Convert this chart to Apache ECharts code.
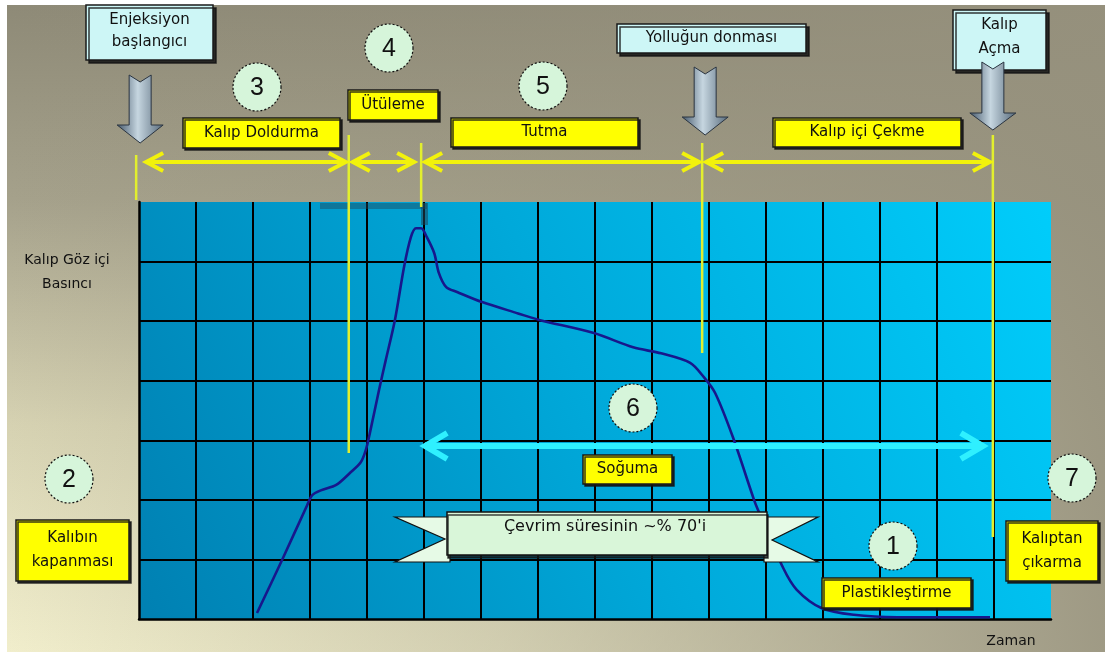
<!DOCTYPE html>
<html>
<head>
<meta charset="utf-8">
<script src="https://cdn.jsdelivr.net/npm/echarts@6/dist/echarts.min.js"></script>
<style>
  html, body { margin: 0; padding: 0; background: #fff; }
  #c1 { width: 1105px; height: 652px; }
</style>
</head>
<body>
<div id="c1"></div>
<script>
// kalıp göz içi basıncı (y) - zaman (x), grid birimleri
const curveTime = [2.07, 2.51, 2.95, 3.04, 3.19, 3.46, 3.70, 3.89, 3.98, 4.05, 4.21, 4.33, 4.49, 4.65, 4.77, 4.86, 4.95, 5.05, 5.18, 5.26, 5.39, 5.58, 6.02, 6.65, 7.02, 7.98, 8.67, 9.16, 9.67, 9.91, 10.11, 10.42, 10.79, 10.86, 11.30, 11.54, 11.98, 12.54, 13.30, 14.93]
const curvePressure = [0.10, 0.99, 1.91, 2.08, 2.16, 2.25, 2.45, 2.63, 2.84, 3.12, 3.84, 4.35, 5.02, 5.91, 6.41, 6.56, 6.56, 6.41, 6.14, 5.81, 5.57, 5.49, 5.32, 5.13, 5.02, 4.80, 4.56, 4.46, 4.30, 4.06, 3.79, 3.05, 2.00, 1.83, 0.86, 0.49, 0.18, 0.07, 0.03, 0.03]

// faz sınırları (zaman ekseni)
const phaseBounds = [-0.05, 3.68, 4.95, 9.88, 14.98]
const phaseNames = ['Kalıp Doldurma', 'Ütüleme', 'Tutma', 'Kalıp içi Çekme']
const stepNumbers = ['1', '2', '3', '4', '5', '6', '7']

const FONT = '"DejaVu Sans", Verdana, sans-serif'

const chart = echarts.init(document.getElementById('c1'))

const axisCommon = {
  type: 'value',
  interval: 1,
  min: 0,
  axisLabel: { show: false },
  axisTick: { show: false },
  axisLine: { show: true, lineStyle: { color: '#000', width: 2.5 } },
  splitLine: {
    show: true,
    showMinLine: false,
    showMaxLine: false,
    lineStyle: { color: '#000', width: 2 }
  }
}

const option = {
  animation: false,
  grid: {
    left: 139,
    right: 54,
    top: 202,
    bottom: 33,
    show: true,
    borderWidth: 0,
    backgroundColor: new echarts.graphic.LinearGradient(0, 1, 1, 0, [
      { offset: 0, color: '#0080b2' },
      { offset: 0.5, color: '#00a9da' },
      { offset: 1, color: '#00cdfb' }
    ])
  },
  xAxis: Object.assign({}, axisCommon, { max: 16 }),
  yAxis: Object.assign({}, axisCommon, { max: 7 }),
  series: [
    {
      name: 'Kalıp Göz içi Basıncı',
      type: 'line',
      data: curveTime.map((t, i) => [t, curvePressure[i]]),
      smooth: 0.3,
      showSymbol: false,
      lineStyle: { color: '#17178c', width: 2.6 },
      z: 5
    }
  ]
}
chart.setOption(option)

const px = v => chart.convertToPixel({ xAxisIndex: 0 }, v)

// --- yardımcılar ---
function textEl(text, x, y, size, opts) {
  opts = opts || {}
  return {
    type: 'text', z: opts.z || 110,
    style: {
      text, x, y,
      align: opts.align || 'center',
      verticalAlign: 'middle',
      font: size + 'px ' + (opts.family || FONT),
      fill: opts.color || '#111'
    }
  }
}
function box(x, y, w, h, fill, lines, opts) {
  opts = opts || {}
  const lh = opts.lineHeight || 24
  const size = opts.size || 15
  const out = [{
    type: 'rect', z: opts.z || 105,
    shape: { x, y, width: w, height: h },
    style: {
      fill, stroke: '#1a1a1a', lineWidth: 1.5,
      shadowColor: 'rgba(20,20,20,0.85)', shadowOffsetX: opts.shadow || 2, shadowOffsetY: opts.shadow || 2, shadowBlur: 0
    }
  }]
  const cy = y + h / 2 - (lines.length - 1) * lh / 2 + (opts.dy || 0)
  lines.forEach((t, i) => out.push(textEl(t, x + w / 2, cy + i * lh, size, { z: (opts.z || 105) + 1 })))
  return out
}
function stepCircle(cx, cy, num) {
  return [
    {
      type: 'circle', z: 106,
      shape: { cx, cy, r: 24 },
      style: { fill: '#d6f5da', stroke: '#111', lineWidth: 1.2, lineDash: [2, 2] }
    },
    textEl(num, cx, cy + 1, 25, { z: 107, family: '"Liberation Sans", Arial, sans-serif' })
  ]
}
const arrowFill = new echarts.graphic.LinearGradient(0, 0, 1, 0, [
  { offset: 0, color: '#44576a' },
  { offset: 0.45, color: '#c6d6e0' },
  { offset: 1, color: '#56697a' }
])
function downArrow(tipX, tipY, topY, headY) {
  return {
    type: 'polygon', z: 108,
    shape: {
      points: [
        [tipX - 11, topY], [tipX, topY + 7], [tipX + 11, topY],
        [tipX + 11, headY], [tipX + 23, headY], [tipX, tipY],
        [tipX - 23, headY], [tipX - 11, headY]
      ]
    },
    style: { fill: arrowFill, stroke: '#2a3440', lineWidth: 1 }
  }
}
function doubleArrow(x1, x2, y, color, width, head) {
  const hl = head[0], hw = head[1]
  const st = { stroke: color, lineWidth: width, fill: null, lineJoin: 'miter' }
  return [
    { type: 'polyline', z: 104, shape: { points: [[x1 + 2, y], [x2 - 2, y]] }, style: st },
    { type: 'polyline', z: 104, shape: { points: [[x1 + hl, y - hw], [x1, y], [x1 + hl, y + hw]] }, style: st },
    { type: 'polyline', z: 104, shape: { points: [[x2 - hl, y - hw], [x2, y], [x2 - hl, y + hw]] }, style: st }
  ]
}

const g = []

// arka plan: dikey gri -> krem, sağa doğru gri
g.push({
  type: 'rect', z: -100,
  shape: { x: 7, y: 5, width: 1098, height: 647 },
  style: {
    fill: new echarts.graphic.LinearGradient(0, 0, 0, 1, [
      { offset: 0, color: '#8e8a77' },
      { offset: 0.3, color: '#a5a18b' },
      { offset: 0.65, color: '#d6d2b2' },
      { offset: 1, color: '#f1eecc' }
    ])
  }
})
g.push({
  type: 'rect', z: -99,
  shape: { x: 7, y: 5, width: 1098, height: 647 },
  style: {
    fill: new echarts.graphic.LinearGradient(0, 0, 1, 0, [
      { offset: 0, color: 'rgba(150,145,125,0)' },
      { offset: 0.45, color: 'rgba(150,145,125,0.35)' },
      { offset: 1, color: 'rgba(150,145,125,0.9)' }
    ])
  }
})

// grafik üstünde koyu şerit
g.push({ type: 'rect', z: 3, shape: { x: 320, y: 203, width: 107, height: 6 }, style: { fill: 'rgba(30,70,90,0.45)' } })
g.push({ type: 'rect', z: 3, shape: { x: 421, y: 203, width: 7, height: 22 }, style: { fill: 'rgba(30,70,90,0.55)' } })

// faz sınırı dikey çizgileri
const vTops = [155, 135, 143, 143, 135]
const vBottoms = [200, 453, 207, 353, 537]
phaseBounds.forEach((b, i) => {
  const x = px(b)
  g.push({
    type: 'line', z: 103,
    shape: { x1: x, y1: vTops[i], x2: x, y2: vBottoms[i] },
    style: { stroke: '#e2ef2e', lineWidth: 2.5 }
  })
})

// faz okları
const arrowY = 162
phaseNames.forEach((n, i) => {
  const a = px(phaseBounds[i]) + (i === 0 ? 10 : 4)
  const b = px(phaseBounds[i + 1]) - (i === 1 ? 7 : 3)
  g.push(...doubleArrow(a, b, arrowY, '#f2f20c', 4, [17, 9]))
})

// soğuma oku
g.push(...doubleArrow(px(phaseBounds[2]) + 4, px(phaseBounds[4]) - 10, 446, '#2ff0ff', 6, [22, 13]))

// faz etiketleri
const phaseBoxes = [
  [183, 118, 157, 30],
  [348, 90, 90, 30],
  [451, 118, 187, 29],
  [773, 118, 188, 29]
]
phaseNames.forEach((n, i) => {
  const r = phaseBoxes[i]
  g.push(...box(r[0], r[1], r[2], r[3], '#ffff00', [n]))
})

// diğer etiketler
g.push(...box(86, 5, 127, 55, '#cdf6f6', ['Enjeksiyon', 'başlangıcı'], { lineHeight: 22, shadow: 3, dy: -1 }))
g.push(...box(617, 24, 189, 29, '#cdf6f6', ['Yolluğun donması'], { shadow: 3 }))
g.push(...box(953, 10, 93, 60, '#cdf6f6', ['Kalıp', 'Açma'], { shadow: 3, dy: -3 }))
g.push(...box(583, 455, 89, 29, '#ffff00', ['Soğuma']))
g.push(...box(16, 520, 113, 61, '#ffff00', ['Kalıbın', 'kapanması']))
g.push(...box(1006, 521, 92, 60, '#ffff00', ['Kalıptan', 'çıkarma']))
g.push(...box(822, 578, 149, 30, '#ffff00', ['Plastikleştirme']))

// oklar
g.push(downArrow(px(phaseBounds[0]) + 4, 143, 75, 125))
g.push(downArrow(px(phaseBounds[3]) + 3, 135, 67, 117))
g.push(downArrow(px(phaseBounds[4]), 130, 62, 113))

// numaralar
const circlePos = [[893, 546], [69, 479], [257, 87], [389, 48], [543, 86], [633, 408], [1072, 478]]
stepNumbers.forEach((n, i) => g.push(...stepCircle(circlePos[i][0], circlePos[i][1], n)))

// şerit (banner)
const bannerFill = '#d9f6d9'
g.push({
  type: 'polygon', z: 105,
  shape: { points: [[450, 517], [395, 517], [445, 539], [395, 562], [450, 562]] },
  style: { fill: '#e6fae6', stroke: '#111', lineWidth: 1.2 }
})
g.push({
  type: 'polygon', z: 105,
  shape: { points: [[764, 517], [818, 517], [772, 540], [818, 562], [764, 562]] },
  style: { fill: '#e6fae6', stroke: '#111', lineWidth: 1.2 }
})
g.push({
  type: 'rect', z: 106,
  shape: { x: 447, y: 512, width: 320, height: 43 },
  style: { fill: bannerFill, stroke: '#111', lineWidth: 1.5, shadowColor: 'rgba(20,20,20,0.8)', shadowOffsetX: 1, shadowOffsetY: 3, shadowBlur: 0 }
})
g.push(textEl("Çevrim süresinin ~% 70'i", 605, 527, 16, { z: 107 }))

// eksen yazıları
g.push(textEl('Kalıp Göz içi', 67, 260, 14))
g.push(textEl('Basıncı', 67, 284, 14))
g.push(textEl('Zaman', 1011, 641, 14))

chart.setOption({ graphic: { elements: g } })
</script>
</body>
</html>
